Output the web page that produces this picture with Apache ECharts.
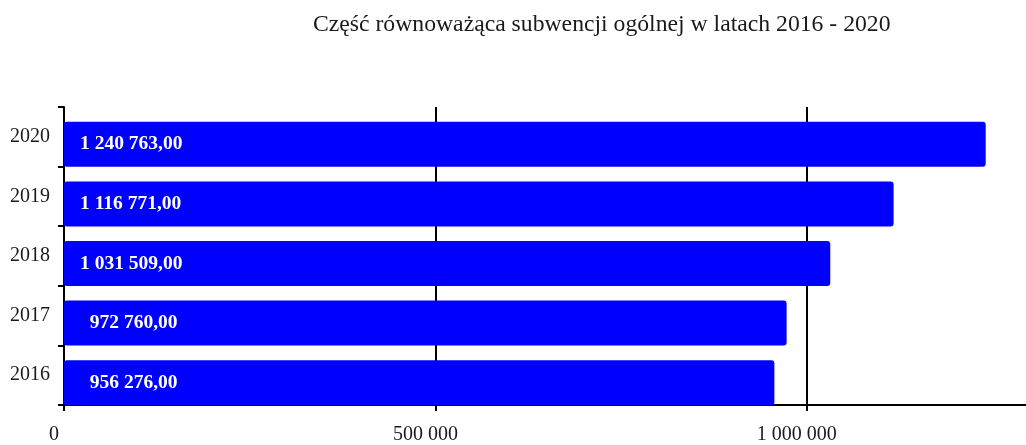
<!DOCTYPE html>
<html>
<head>
<meta charset="utf-8">
<script src="https://cdn.jsdelivr.net/npm/echarts@6/dist/echarts.min.js"></script>
<style>html,body{margin:0;padding:0;background:#fff}#c{width:1026px;height:445px}</style>
</head>
<body>
<div id="c"></div>
<script>
const titleText = 'Część równoważąca subwencji ogólnej w latach 2016 - 2020';
const years = ['2016', '2017', '2018', '2019', '2020'];
const values = [956276.00, 972760.00, 1031509.00, 1116771.00, 1240763.00];
const spacer = [0, 0, 0, 0, 0];
const xTicks = [0, 500000, 1000000];

function fmtThousands(n) {
  return String(Math.round(n)).replace(/\B(?=(\d{3})+(?!\d))/g, ' ');
}
function fmtValue(v) {
  const s = fmtThousands(Math.floor(v)) + ',' + (Math.round((v % 1) * 100) + '').padStart(2, '0');
  return (v < 1000000 ? '\u2007' : '') + s;
}

const FONT = 'Liberation Serif';
const chart = echarts.init(document.getElementById('c'), null, {renderer: 'canvas'});
chart.setOption({
  animation: false,
  title: {
    text: titleText,
    left: 308, top: 8,
    textStyle: {fontFamily: FONT, fontSize: 23.7, fontWeight: 'normal', color: '#1a1a1a'}
  },
  grid: {left: 64, right: 0, top: 107, bottom: 37, containLabel: false},
  xAxis: {
    type: 'value', min: 0, max: 1295000, interval: 500000,
    axisLine: {show: true, lineStyle: {color: '#000', width: 2}},
    axisTick: {show: true, length: 6, customValues: xTicks, lineStyle: {color: '#000', width: 2}},
    splitLine: {show: true, lineStyle: {color: ['#000', '#000', '#000', 'rgba(0,0,0,0)'], width: 2}},
    axisLabel: {
      customValues: xTicks, margin: 20,
      fontFamily: FONT, fontSize: 20, color: '#1a1a1a',
      padding: [0, 20, 0, 0],
      formatter: v => fmtThousands(v)
    }
  },
  yAxis: {
    type: 'category', data: years,
    axisLine: {show: true, lineStyle: {color: '#000', width: 2}},
    axisTick: {show: true, length: 6, lineStyle: {color: '#000', width: 2}},
    splitLine: {show: false},
    axisLabel: {margin: 14, fontFamily: FONT, fontSize: 20, color: '#1a1a1a'}
  },
  series: [
    {
      type: 'bar', data: spacer, barWidth: 15, barGap: '0%', silent: true,
      itemStyle: {color: 'rgba(0,0,0,0)'}
    },
    {
      type: 'bar', data: values, barWidth: 45, barGap: '0%',
      itemStyle: {color: '#0000FF', borderRadius: 3},
      label: {
        show: true, position: 'insideLeft', distance: 16,
        color: '#fff', fontFamily: FONT, fontWeight: 'bold', fontSize: 19.5,
        formatter: p => fmtValue(p.value)
      }
    }
  ]
});
</script>
</body>
</html>
